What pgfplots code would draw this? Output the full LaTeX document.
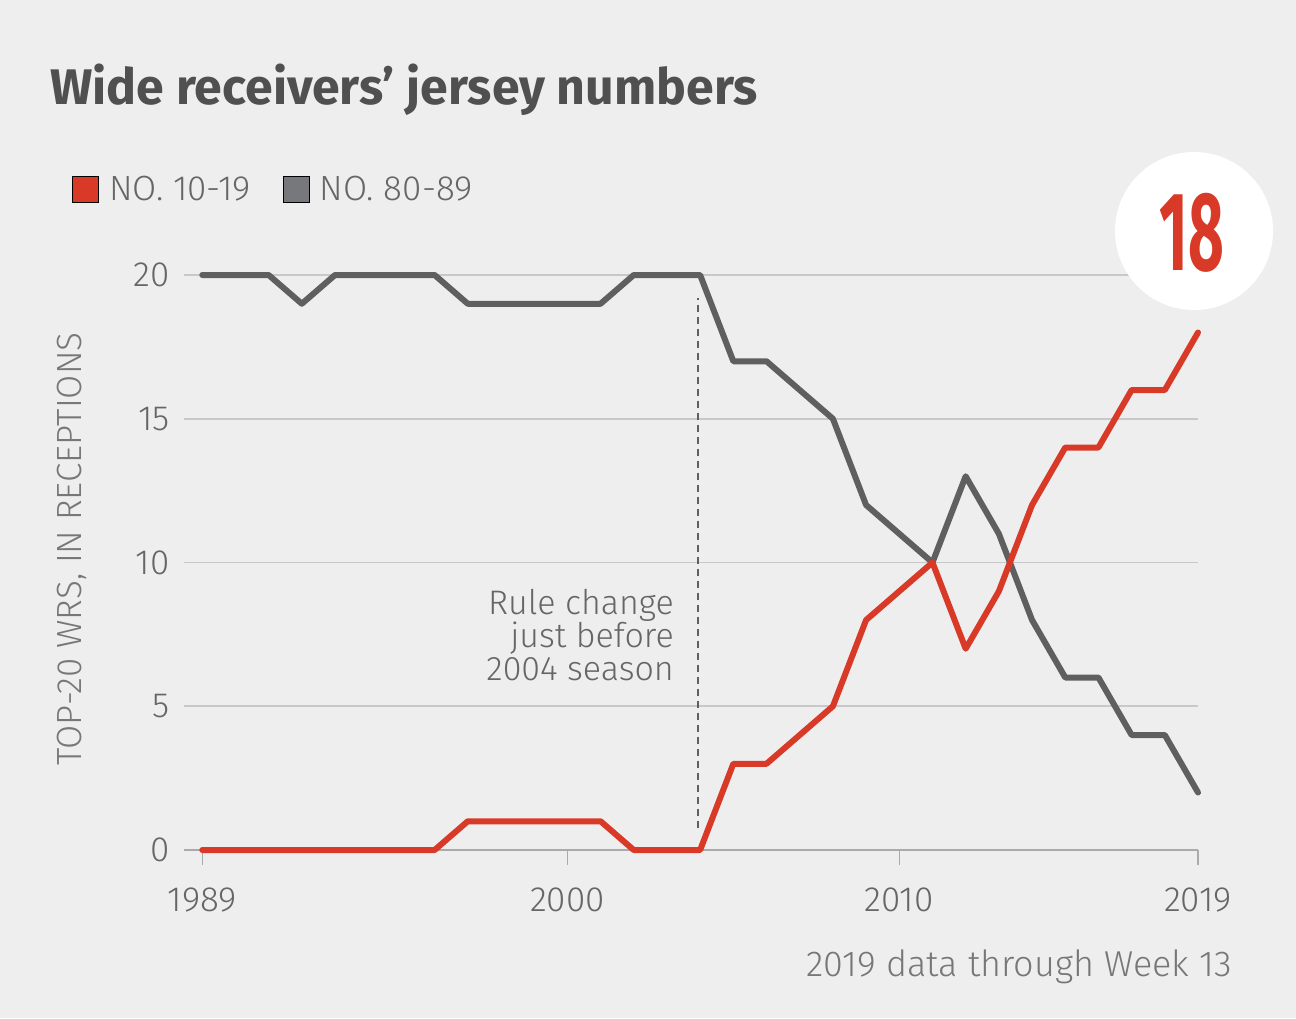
\documentclass[border=0pt]{standalone}
\usepackage{fontspec}
\usepackage{pgfplots}
\pgfplotsset{compat=1.18}
\usepackage{graphicx}
\setmainfont{Fira Sans}[UprightFont={* Light}, BoldFont={* Bold}]
\newfontfamily\lightfont{Fira Sans}[UprightFont={* Light}]
\newfontfamily\titlefont{Fira Sans}[UprightFont={* Bold}]
\newfontfamily\numfont{Fira Sans}[UprightFont={* Bold}, FakeStretch=0.55]
\definecolor{bgc}{HTML}{EEEEEE}
\definecolor{gridc}{HTML}{C8C8C8}
\definecolor{zeroc}{HTML}{AAAAAA}
\definecolor{redc}{HTML}{D93A28}
\definecolor{darkline}{HTML}{5F5F5F}
\definecolor{leggray}{HTML}{77787B}
\definecolor{titlec}{HTML}{505050}
\definecolor{tickc}{HTML}{666666}
\definecolor{labc}{HTML}{777777}
\begin{document}
\begin{tikzpicture}
\fill[bgc] (0pt,0pt) rectangle (648pt,-509pt);
\node[anchor=base west, inner sep=0pt, text=titlec, font=\titlefont\fontsize{25}{29}\selectfont] at (25pt,-52pt) {Wide receivers’ jersey numbers};
\begin{axis}[
  at={(92pt,-425pt)}, anchor=south west,
  scale only axis, width=507pt, height=287.5pt,
  xmin=1988.45, xmax=2019, ymin=0, ymax=20,
  clip=false,
  axis line style={draw=none},
  xtick={1989,2000,2010,2019},
  xticklabels={1989,2000,2010,2019},
  ytick={0,5,10,15,20},
  tick pos=left,
  tick align=outside,
  major tick length=7.5pt,
  xtick style={draw=zeroc, line width=0.6pt},
  ytick style={draw=none},
  ymajorgrids,
  grid style={draw=gridc, line width=0.9pt},
  /pgf/number format/assume math mode=true,
  tick label style={font=\lightfont\fontsize{17.5}{20}\selectfont, text=tickc},
  yticklabel style={anchor=east, inner sep=0pt, xshift=0.5pt},
  xticklabel style={anchor=north, inner sep=0pt, yshift=-11pt},
  ylabel={TOP-20 WRS, IN RECEPTIONS},
  every axis y label/.style={at={(axis description cs:-0.1105,0.5235)}, rotate=90, anchor=center, font=\lightfont\fontsize{17.5}{20}\selectfont, text=labc},
  legend columns=2,
  legend style={draw=none, fill=none, at={(axis description cs:-0.1105,1.1726)}, anchor=north west, inner sep=0pt,
    font=\lightfont\fontsize{17.5}{20}\selectfont, text=tickc,
    nodes={anchor=west, inner xsep=5pt, inner ysep=0pt},
    /tikz/every even column/.append style={column sep=11pt}},
  legend image code/.code={\fill[#1] (0pt,-6.5pt) rectangle (13pt,6.5pt);},
]
\addlegendimage{fill=redc}
\addlegendentry{NO. 10-19}
\addlegendimage{fill=leggray}
\addlegendentry{NO. 80-89}
\draw[color=darkline, line width=1pt, dash pattern=on 3.5pt off 2.5pt] (axis cs:2003.95,0.75) -- (axis cs:2003.95,19.2);
\draw[color=zeroc, line width=0.9pt] (axis cs:1988.45,0) -- (axis cs:2019,0);
\addplot[color=darkline, line width=3pt, line join=round, line cap=round, forget plot] coordinates {
(1989,20) (1990,20) (1991,20) (1992,19) (1993,20) (1994,20) (1995,20) (1996,20)
(1997,19) (1998,19) (1999,19) (2000,19) (2001,19) (2002,20) (2003,20) (2004,20)
(2005,17) (2006,17) (2007,16) (2008,15) (2009,12) (2010,11) (2011,10) (2012,13)
(2013,11) (2014,8) (2015,6) (2016,6) (2017,4) (2018,4) (2019,2)
};
\addplot[color=redc, line width=3pt, line join=round, line cap=round, forget plot] coordinates {
(1989,0) (1990,0) (1991,0) (1992,0) (1993,0) (1994,0) (1995,0) (1996,0)
(1997,1) (1998,1) (1999,1) (2000,1) (2001,1) (2002,0) (2003,0) (2004,0)
(2005,3) (2006,3) (2007,4) (2008,5) (2009,8) (2010,9) (2011,10) (2012,7)
(2013,9) (2014,12) (2015,14) (2016,14) (2017,16) (2018,16) (2019,18)
};
\node[anchor=north east, align=right, inner sep=0pt, text=tickc, font=\lightfont\fontsize{17}{16.5}\selectfont] at (axis cs:2003.22,9.1) {Rule change\\just before\\2004 season};
\end{axis}
\fill[white] (597pt,-115.5pt) circle (39.5pt);
\node[inner sep=0pt, text=redc, font=\numfont\fontsize{56}{56}\selectfont] at (596pt,-116.5pt) {18};
\node[anchor=east, inner sep=0pt, text=labc, font=\lightfont\fontsize{18}{20}\selectfont] at (616pt,-483.5pt) {2019 data through Week 13};
\end{tikzpicture}
\end{document}
